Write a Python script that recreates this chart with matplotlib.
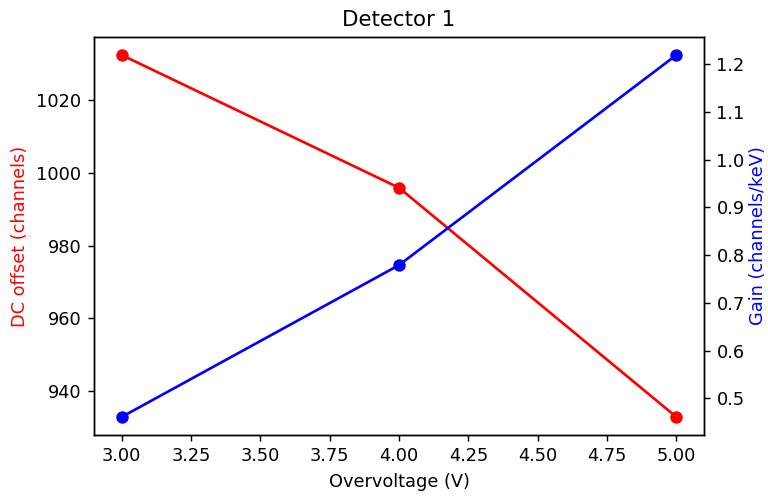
import matplotlib
matplotlib.use("Agg")
import matplotlib.pyplot as plt

# Detector 1 calibration vs overvoltage
overvoltage = [3.0, 4.0, 5.0]
dc_offset = [1032.4, 995.9, 932.9]
gain = [0.461, 0.779, 1.219]

fig, ax1 = plt.subplots(figsize=(6, 3.883), dpi=128)
fig.subplots_adjust(left=0.1224, right=0.9167, top=0.9256, bottom=0.1247)

ax1.plot(overvoltage, dc_offset, 'ro-')
ax1.set_xlabel('Overvoltage (V)')
ax1.set_ylabel('DC offset (channels)', color='r')
ax1.set_title('Detector 1')

ax2 = ax1.twinx()
ax2.plot(overvoltage, gain, 'bo-')
ax2.set_ylabel('Gain (channels/keV)', color='b', labelpad=2.5)

fig.savefig('out.png', dpi=128)
